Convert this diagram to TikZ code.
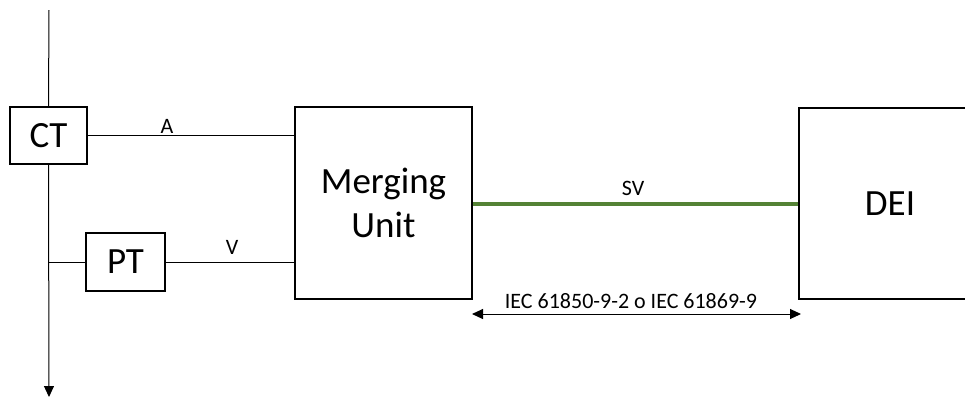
\documentclass[tikz,border=0pt]{standalone}
\usepackage{fontspec}
\setmainfont{Carlito}
\usetikzlibrary{arrows.meta}
\definecolor{svgreen}{RGB}{84,130,53}
\begin{document}
\begin{tikzpicture}[x=1pt,y=-1pt,
  box/.style={draw=black,line width=2pt,fill=white,rectangle,inner sep=0pt,
    font=\fontsize{37}{44}\selectfont,align=center},
  wire/.style={draw=black,line width=1pt},
  lbl/.style={inner sep=0pt,font=\fontsize{22}{24}\selectfont},
  tip/.style={-{Triangle[length=11pt,width=10pt]}}
]
\useasboundingbox (0,0) rectangle (965,400);
\clip (0,0) rectangle (965,400);
% boxes
\node[box,minimum width=77pt,minimum height=57pt] (ct) at (48.5,135.5) {CT};
\node[box,minimum width=79pt,minimum height=58pt] (pt) at (125.5,262) {PT};
\node[box,minimum width=177pt,minimum height=192pt] (mu) at (383.5,203) {Merging\\Unit};
\node[box,minimum width=182pt,minimum height=191pt] (dei) at (890,203.5) {DEI};
% vertical bus
\coordinate (top) at (49,10);
\coordinate (bot) at (49,397);
\coordinate (tap) at (49,262);
\draw[wire] (top) -- (ct.north);
\draw[wire,tip] (ct.south) -- (bot);
\draw[wire] (tap) -- (pt.west);
% signal lines
\draw[wire] (ct.east) -- (mu.west |- ct.east);
\draw[wire] (pt.east) -- (mu.west |- pt.east);
\draw[draw=svgreen,line width=4pt] (mu.east |- 0,204) -- (dei.west |- 0,204);
% labels
\node[lbl] (la) at (167,126) {A};
\node[lbl] (lv) at (232,247) {V};
\node[lbl] (lsv) at (633,188) {SV};
% protocol arrow
\coordinate (pl) at (472,314);
\coordinate (pr) at (801,314);
\draw[wire,{Triangle[length=11pt,width=10pt]}-{Triangle[length=11pt,width=10pt]}] (pl) -- (pr);
\node[lbl] (lp) at (631,301) {IEC 61850-9-2 o IEC 61869-9};
\end{tikzpicture}
\end{document}
